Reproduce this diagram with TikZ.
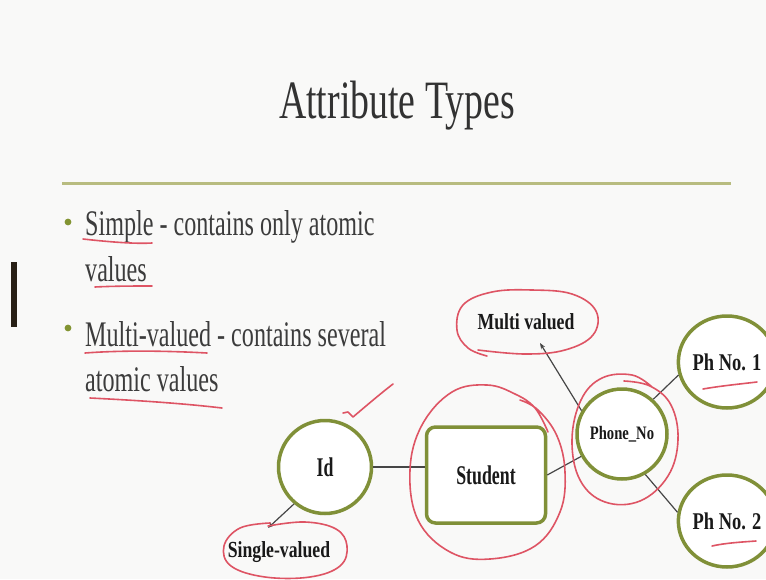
\documentclass[tikz,border=0pt]{standalone}
\usepackage{fontspec}
\setmainfont[FakeStretch=0.67]{Liberation Serif}
\newfontfamily\ttlfont[FakeStretch=0.7]{Liberation Serif}
\newfontfamily\dgafont[FakeStretch=0.66]{Liberation Serif}
\newfontfamily\dgbfont[FakeStretch=0.77]{Liberation Serif}
\usetikzlibrary{shapes.geometric,arrows.meta}
\definecolor{bgc}{RGB}{249,249,248}
\definecolor{entc}{RGB}{128,144,56}
\definecolor{linkc}{RGB}{70,70,70}
\definecolor{penc}{RGB}{222,84,100}
\definecolor{titlec}{RGB}{50,50,50}
\definecolor{bodyc}{RGB}{60,60,60}
\definecolor{txtc}{RGB}{25,25,25}
\definecolor{rulec}{RGB}{184,188,128}
\definecolor{bulc}{RGB}{130,148,50}
\definecolor{barc}{RGB}{40,32,22}
\begin{document}
\begin{tikzpicture}[x=1pt,y=-1pt,
  ent/.style={draw=entc,line width=3.5pt,fill=white,text=txtc,inner sep=0pt},
  fa/.style={font=\dgafont\bfseries\fontsize{27}{30}\selectfont},
  fb/.style={font=\dgbfont\bfseries\fontsize{#1}{26}\selectfont},
  lbl/.style={text=txtc,inner sep=1pt},
  link/.style={draw=linkc,line width=1.2pt},
  arr/.style={-{Stealth[length=6pt,width=4.5pt]}},
  redpen/.style={draw=penc,line width=1.6pt,line cap=round,line join=round},
  body/.style={anchor=base west,inner sep=0pt,text=bodyc,font=\fontsize{36}{40}\selectfont}
]
\fill[bgc] (0,0) rectangle (766,579);
\useasboundingbox (0,0) rectangle (766,579);

% title and rule
\node[anchor=base,inner sep=0pt,text=titlec,font=\ttlfont\fontsize{54}{60}\selectfont] (title) at (397,118) {Attribute Types};
\draw[rulec,line width=3pt] (62,183) -- (731,183);
\fill[barc] (11,262) rectangle (17,327);

% bullets
\fill[bulc] (68,222) circle (3.4);
\fill[bulc] (68,328) circle (3.4);
\node[body] (l1) at (85,235) {Simple - contains only atomic};
\node[body] (l2) at (85,281) {values};
\node[body] (l3) at (85,346) {Multi-valued - contains several};
\node[body] (l4) at (85,391) {atomic values};

% diagram
\node[ent,circle,minimum size=93pt,fa] (id) at (325,467) {Id};
\node[ent,rounded corners=9pt,minimum width=119pt,minimum height=96pt,fa] (student) at (486,475) {Student};
\node[ent,circle,minimum size=90pt,fb=19] (phone) at (622,434) {Phone\_No};
\node[ent,ellipse,minimum width=76pt,minimum height=92pt,fb=24] (ph1) at (727,362) {Ph No. 1};
\node[ent,ellipse,minimum width=76pt,minimum height=92pt,fb=24] (ph2) at (727,521) {Ph No. 2};
\node[lbl,fb=23] (mv) at (526,322) {Multi valued};
\node[lbl,fb=23] (sv) at (279,552) {Single-valued};
\coordinate (mvtip) at (540,343);
\coordinate (svtip) at (268,528);

\draw[link] (id.east) -- (id.east -| student.west);
\draw[link] (student.east) -- (phone);
\draw[link,arr] (phone.150) -- (mvtip);
\draw[link] (phone.48) -- (ph1.195);
\draw[link] (phone.-60) -- (ph2.170);
\draw[link,arr] (id.-130) -- (svtip);

% red pen annotations
\draw[redpen] (83,239) .. controls (110,242) and (135,244) .. (152,243);
\draw[redpen] (95,287) .. controls (115,286) and (135,286) .. (152,286);
\draw[redpen] (85,353) .. controls (125,350) and (170,351) .. (207,353);
\draw[redpen] (90,398) .. controls (130,400) and (180,403) .. (222,408);
\draw[redpen] (703,389) .. controls (720,386) and (740,384) .. (757,382);
\draw[redpen] (712,546) .. controls (725,543) and (742,542) .. (756,541);
\draw[redpen] (343,413) -- (348,412) -- (353,417) .. controls (366,406) and (380,394) .. (393,384);
% loops
\draw[redpen] plot[smooth,tension=0.65] coordinates {(270,523) (240,528) (224,546) (231,566) (265,577) (310,577) (340,566) (347,546) (336,529) (305,522) (268,526)};
\draw[redpen] plot[smooth,tension=0.65] coordinates {(548,432) (535,408) (515,394) (487,385) (452,392) (422,425) (410,470) (418,520) (450,552) (490,559) (535,546) (560,512) (565,472) (557,436) (538,410) (520,400)};
\draw[redpen] plot[smooth,tension=0.65] coordinates {(652,387) (632,375) (602,378) (581,400) (572,440) (580,480) (605,502) (640,501) (668,476) (678,440) (671,405) (650,386) (624,381)};
\draw[redpen] plot[smooth,tension=0.65] coordinates {(487,356) (468,348) (457,330) (463,305) (492,292) (532,290) (572,294) (596,311) (593,335) (565,350) (525,354) (478,350)};
\end{tikzpicture}
\end{document}
